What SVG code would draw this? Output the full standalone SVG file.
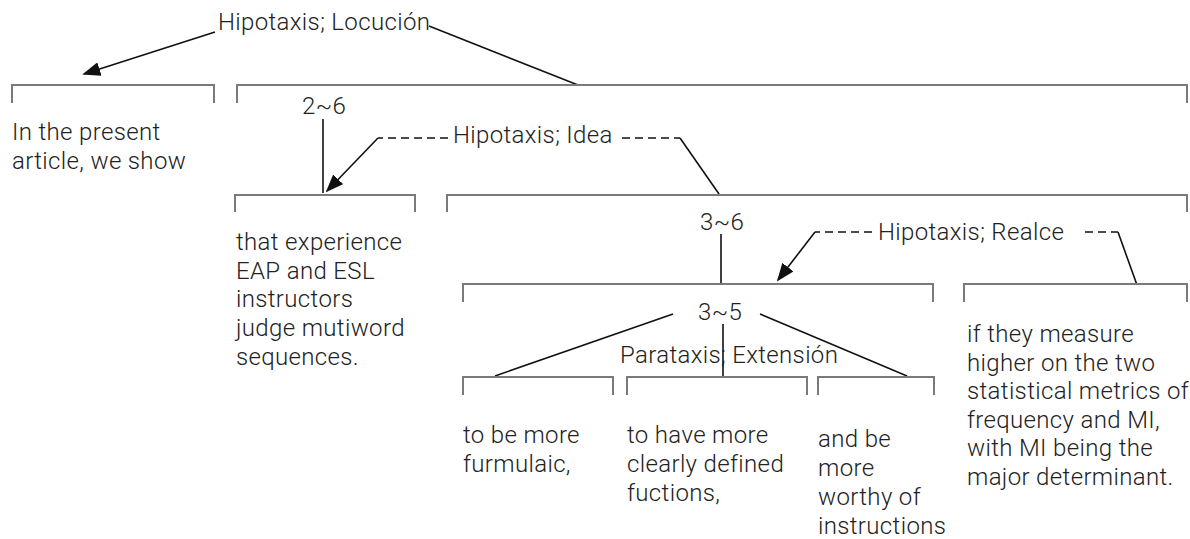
<svg xmlns="http://www.w3.org/2000/svg" width="1190" height="539" viewBox="0 0 1190 539">
<defs>
<style>
text{font-family:Roboto,"Liberation Sans",sans-serif;font-size:24px;font-weight:300;letter-spacing:0.35px;fill:#222}
.br{fill:none;stroke:#7a7a7a;stroke-width:2}
.ln{fill:none;stroke:#111;stroke-width:1.6}
.ds{fill:none;stroke:#111;stroke-width:1.6;stroke-dasharray:8 5}
</style>
<marker id="ahb" viewBox="0 0 10 10" refX="9" refY="5" markerWidth="18" markerHeight="14" markerUnits="userSpaceOnUse" orient="auto" preserveAspectRatio="none">
<path d="M0,0 L10,5 L0,10 z" fill="#111"/>
</marker>
</defs>
<rect width="1190" height="539" fill="#fff"/>
<g id="connectors">
<path class="ln" d="M215,32 L84,74" marker-end="url(#ahb)"/>
<path class="ln" d="M429,26 L578,85"/>
<path class="ln" d="M323,119 V193"/>
<path class="ds" d="M448,138 H378"/>
<path class="ln" d="M378,138 L327,191" marker-end="url(#ahb)"/>
<path class="ds" d="M622,138 H680"/>
<path class="ln" d="M680,138 L719,194"/>
<path class="ln" d="M721,234 V284"/>
<path class="ds" d="M872,232 H815"/>
<path class="ln" d="M815,232 L778,280" marker-end="url(#ahb)"/>
<path class="ds" d="M1085,232 H1118"/>
<path class="ln" d="M1118,232 L1137,285"/>
<path class="ln" d="M673,314 L495,376"/>
<path class="ln" d="M760,314 L907,376"/>
<path class="ln" d="M723,324 V376"/>
</g>
<g id="n-top"><text x="218" y="30">Hipotaxis; Locución</text></g>
<g id="n-b1"><path class="br" d="M12,103 V85 H214 V103"/>
<text x="12" y="140">In the present</text><text x="12" y="169">article, we show</text></g>
<g id="n-b2"><path class="br" d="M237,103 V85 H1187 V103"/><text x="302" y="114">2~6</text></g>
<g id="n-idea"><text x="453" y="143">Hipotaxis; Idea</text></g>
<g id="n-b3"><path class="br" d="M235,212 V195 H415 V212"/>
<text x="236" y="250">that experience</text><text x="236" y="279">EAP and ESL</text><text x="236" y="307">instructors</text><text x="236" y="336">judge mutiword</text><text x="236" y="365">sequences.</text></g>
<g id="n-b4"><path class="br" d="M447,212 V195 H1187 V212"/><text x="700" y="230">3~6</text></g>
<g id="n-realce"><text x="878" y="240">Hipotaxis; Realce</text></g>
<g id="n-b5"><path class="br" d="M463,302 V284 H933 V302"/><text x="698" y="320">3~5</text></g>
<g id="n-para"><text x="620" y="363">Parataxis; Extensión</text></g>
<g id="n-b6"><path class="br" d="M964,302 V284 H1187 V302"/>
<text x="967" y="342">if they measure</text><text x="967" y="370.5">higher on the two</text><text x="967" y="399">statistical metrics of</text><text x="967" y="427.5">frequency and MI,</text><text x="967" y="456">with MI being the</text><text x="967" y="484.5">major determinant.</text></g>
<g id="n-b7"><path class="br" d="M463,395 V377 H613 V395"/>
<text x="463" y="443">to be more</text><text x="463" y="472">furmulaic,</text></g>
<g id="n-b8"><path class="br" d="M627,395 V377 H807 V395"/>
<text x="627" y="443">to have more</text><text x="627" y="472">clearly defined</text><text x="627" y="501">fuctions,</text></g>
<g id="n-b9"><path class="br" d="M818,395 V377 H934 V395"/>
<text x="818" y="447">and be</text><text x="818" y="476">more</text><text x="818" y="505">worthy of</text><text x="818" y="534">instructions</text></g>
</svg>
